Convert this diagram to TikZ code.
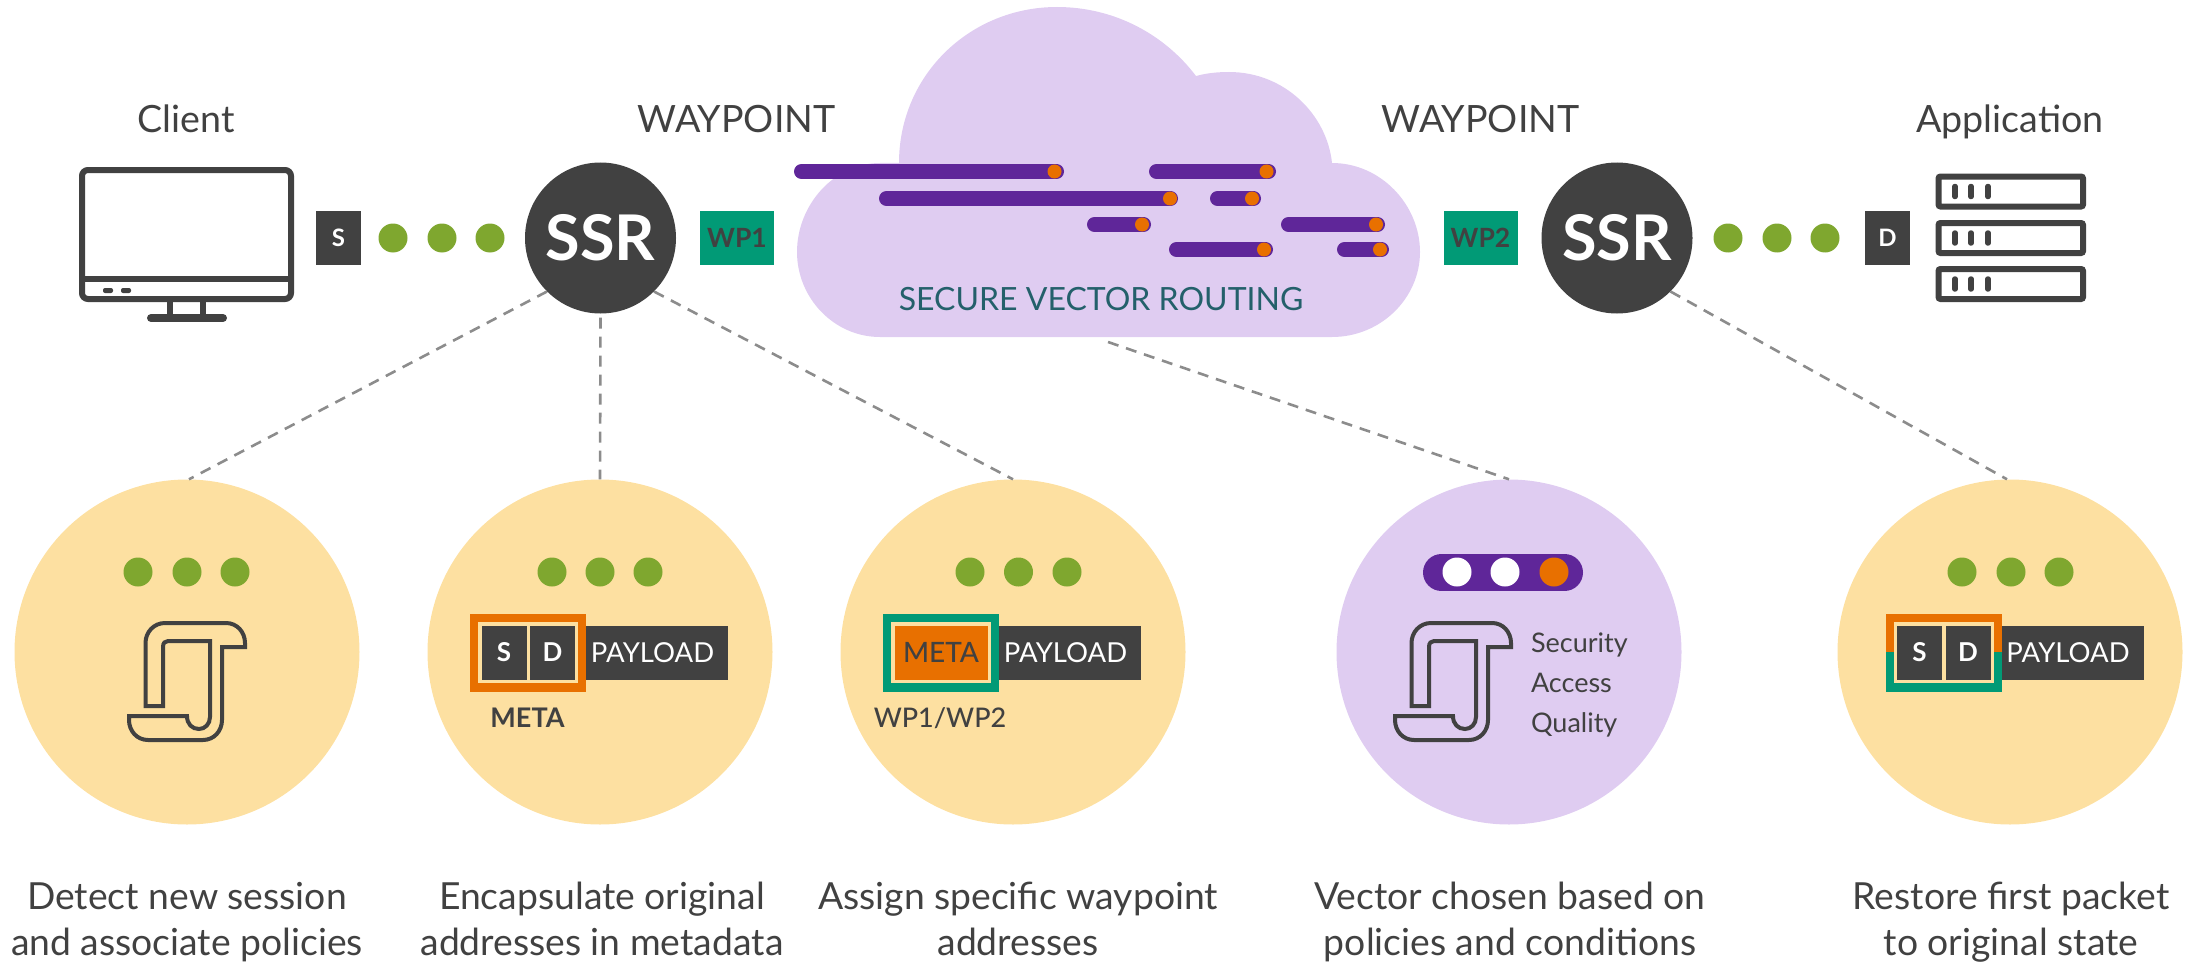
\documentclass[tikz,border=0pt]{standalone}
\usepackage{fontspec}
\setmainfont{Lato}
\newfontfamily\latomed{Lato Medium}
\definecolor{ink}{HTML}{414141}
\definecolor{leaf}{HTML}{7FA72F}
\definecolor{teal}{HTML}{019A76}
\definecolor{amber}{HTML}{E87000}
\definecolor{plum}{HTML}{5F2699}
\definecolor{lilac}{HTML}{DFCCF1}
\definecolor{sand}{HTML}{FDE0A1}
\definecolor{deepteal}{HTML}{24606B}
\definecolor{dashgray}{HTML}{8C8C8C}
\newcommand{\fsz}[1]{\fontsize{#1}{#1}\selectfont}
\tikzset{
  txt/.style={inner sep=0pt,outer sep=0pt,text=ink,anchor=base},
  heading/.style={txt,font=\fsz{37.6}},
  caption/.style={txt,font=\fsz{37.3},align=center},
  ssrnode/.style={circle,fill=ink,inner sep=0pt,minimum size=151pt,text=white,font=\bfseries\fsz{63}},
  gdot/.style={circle,fill=leaf,inner sep=0pt,minimum size=29pt},
  wdot/.style={circle,fill=white,inner sep=0pt,minimum size=29pt},
  odot/.style={circle,fill=amber,inner sep=0pt,minimum size=29pt},
  wpbox/.style={rectangle,fill=teal,inner sep=0pt,minimum width=74pt,minimum height=54pt,text=ink,font=\bfseries\fsz{26.5}},
  addrbox/.style={rectangle,fill=ink,inner sep=0pt,minimum width=45pt,minimum height=54pt,text=white,font=\bfseries\fsz{26}},
  payloadbox/.style={rectangle,fill=ink,inner sep=0pt,minimum width=142pt,minimum height=54pt,text=white,font=\fsz{27.5}},
  bigcircle/.style={circle,inner sep=0pt,minimum size=345pt},
  lead/.style={draw=dashgray,line width=2.6pt,dash pattern=on 11pt off 8pt},
}
\newcommand{\vecbar}[4]{%
  \draw[plum,line width=15pt,line cap=round] (#2+7.5,#1) -- (#3-7.5,#1);
  \fill[amber] (#4,#1) circle[radius=7pt];}
\newcommand{\scripticon}[1]{%
  \begin{scope}[xshift=#1pt]
  \draw[ink,line width=4pt,line join=miter]
    (145.5,706) -- (145.5,643) .. controls (145.5,632) and (154,623) .. (165,623)
    -- (226,623) .. controls (237,623) and (245,632) .. (245,643)
    -- (245,647) -- (222,647) -- (222,720) .. controls (222,731) and (214,740) .. (203,740)
    -- (148,740) .. controls (137,740) and (129,731) .. (129,720)
    -- (129,716) -- (187,716) .. controls (187,724) and (192,729) .. (199,729)
    .. controls (205,729) and (210,724) .. (210,717)
    -- (210,641) -- (168,641) .. controls (165,641) and (163,643) .. (163,647)
    -- (163,706) -- cycle;
  \end{scope}}
\begin{document}
\begin{tikzpicture}[x=1pt,y=-1pt]
\useasboundingbox (0,0) rectangle (2190,963);
% cloud
\fill[lilac] (880,337) .. controls (834,337) and (797,298) .. (797,252)
  .. controls (797,205) and (834,163) .. (880,163) -- (899,163)
  .. controls (899,75) and (970,7) .. (1057,7)
  .. controls (1115,7) and (1165,35) .. (1196,76)
  .. controls (1207,73) and (1218,72) .. (1229,72)
  .. controls (1285,72) and (1327,115) .. (1332,163)
  .. controls (1381,163) and (1420,205) .. (1420,252)
  .. controls (1420,298) and (1381,337) .. (1332,337) -- cycle;
\coordinate (cloudbase) at (1108,342);
% bars
\vecbar{171.5}{794}{1064}{1054.5}
\vecbar{171.5}{1149}{1276}{1266.5}
\vecbar{198.5}{879}{1178}{1170}
\vecbar{198.5}{1210}{1261}{1252}
\vecbar{224.5}{1087}{1151}{1142}
\vecbar{224.5}{1281}{1385}{1376}
\vecbar{249.5}{1169}{1273}{1264}
\vecbar{249.5}{1337}{1389}{1380}
\node[txt,text=deepteal,font=\fsz{32}] (svr) at (1101,310) {SECURE VECTOR ROUTING};
% headings
\node[heading] (client) at (186,132) {Client};
\node[heading] (wp1t) at (736.5,132) {WAYPOINT};
\node[heading] (wp2t) at (1480.5,132) {WAYPOINT};
\node[heading] (app) at (2010,132) {Application};
% monitor
\draw[ink,line width=6pt,rounded corners=6pt] (82,170) rectangle (291,299);
\draw[ink,line width=6pt] (82,279) -- (291,279);
\fill[ink,rounded corners=2pt] (103,288) rectangle (113,293) (121,288) rectangle (131,293);
\draw[ink,line width=6pt] (170,302) -- (170,318) (203,302) -- (203,318);
\draw[ink,line width=8pt,line cap=round] (151,318) -- (223,318);
% server
\foreach \yy in {191.5,238,284}{
  \draw[ink,line width=6pt,rounded corners=2pt] (1938.5,\yy-15) rectangle (2083,\yy+15);
  \foreach \xx in {1955,1971,1988}{
    \draw[ink,line width=5.5pt,line cap=round] (\xx,\yy-5) -- (\xx,\yy+5);
  }
}
% big circles
\node[bigcircle,fill=sand] (c1) at (187,652) {};
\node[bigcircle,fill=sand] (c2) at (600,652) {};
\node[bigcircle,fill=sand] (c3) at (1013,652) {};
\node[bigcircle,fill=lilac] (c4) at (1509,652) {};
\node[bigcircle,fill=sand] (c5) at (2010,652) {};
% SSR nodes and leads
\node[ssrnode] (ssr1) at (600.5,238) {SSR};
\node[ssrnode] (ssr2) at (1617,238) {SSR};
\draw[lead] (ssr1.225) -- ([xshift=2pt]c1.north);
\draw[lead] ([yshift=-4pt]ssr1.south) -- (c2.north);
\draw[lead] (ssr1.315) -- (c3.north);
\draw[lead] (cloudbase) -- (c4.north);
\draw[lead] (ssr2.315) -- ([xshift=-3pt]c5.north);
% top row
\node[addrbox,font=\bfseries\fsz{24}] (s) at (338.5,238) {S};
\node[gdot] (g1) at (393,238) {};
\node[gdot] (g2) at (442,238) {};
\node[gdot] (g3) at (490,238) {};
\node[wpbox] (wp1) at (737,238) {WP1};
\node[wpbox] (wp2) at (1480.5,238) {WP2};
\node[gdot] (g4) at (1728,238) {};
\node[gdot] (g5) at (1777,238) {};
\node[gdot] (g6) at (1825,238) {};
\node[addrbox,font=\bfseries\fsz{24}] (d) at (1887.5,238) {D};
% dots in circles
\foreach \n/\xx in {a/138,b/187,c/235,d/552,e/600,f/648,g/970,h/1018.5,i/1067,j/1962,k/2011,l/2059}{
  \node[gdot] (k\n) at (\xx,572) {};
}
% circle 1
\scripticon{0}
% circle 2
\fill[amber] (470,614) rectangle (586,692);
\fill[sand] (478,622) rectangle (578,683);
\node[addrbox] (s2) at (504,652.5) {S};
\node[addrbox] (d2) at (552.5,652.5) {D};
\node[payloadbox] (p2) at (657,652.5) {PAYLOAD\kern9pt};
\node[txt,font=\bfseries\fsz{27}] (m2) at (527.5,727) {META};
% circle 3
\fill[teal] (883,614) rectangle (999,692);
\fill[sand] (891,622) rectangle (991,683);
\node[rectangle,fill=amber,inner sep=0pt,minimum width=93pt,minimum height=54pt,text=ink,font=\latomed\fsz{28}] (m3) at (941,652.5) {META};
\node[payloadbox] (p3) at (1070,652.5) {PAYLOAD\kern9pt};
\node[txt,font=\latomed\fsz{27}] (w3) at (940,727) {WP1/WP2};
% circle 4
\draw[plum,line width=37pt,line cap=round] (1441.5,572.5) -- (1564.5,572.5);
\node[wdot] (v1) at (1457,572) {};
\node[wdot] (v2) at (1505,572) {};
\node[odot] (v3) at (1554,572) {};
\scripticon{1266}
\node[txt,anchor=base west,font=\fsz{27}] (sec) at (1531,652) {Security};
\node[txt,anchor=base west,font=\fsz{27}] (acc) at (1531,692) {Access};
\node[txt,anchor=base west,font=\fsz{27}] (qua) at (1531,732) {Quality};
% circle 5
\fill[amber] (1886,614) rectangle (2002,652);
\fill[teal] (1886,652) rectangle (2002,692);
\fill[sand] (1894,622) rectangle (1994,683);
\node[addrbox] (s5) at (1919.5,652.5) {S};
\node[addrbox] (d5) at (1968,652.5) {D};
\node[payloadbox] (p5) at (2072.5,652.5) {PAYLOAD\kern9pt};
% captions
\node[caption] (t1) at (187,909) {Detect new session};
\node[caption] (t1b) at (187,955) {and associate policies};
\node[caption] (t2) at (602,909) {Encapsulate original};
\node[caption] (t2b) at (602,955) {addresses in metadata};
\node[caption] (t3) at (1018,909) {Assign specific waypoint};
\node[caption] (t3b) at (1018,955) {addresses};
\node[caption] (t4) at (1510,909) {Vector chosen based on};
\node[caption] (t4b) at (1510,955) {policies and conditions};
\node[caption] (t5) at (2011,909) {Restore first packet};
\node[caption] (t5b) at (2011,955) {to original state};
\end{tikzpicture}
\end{document}
